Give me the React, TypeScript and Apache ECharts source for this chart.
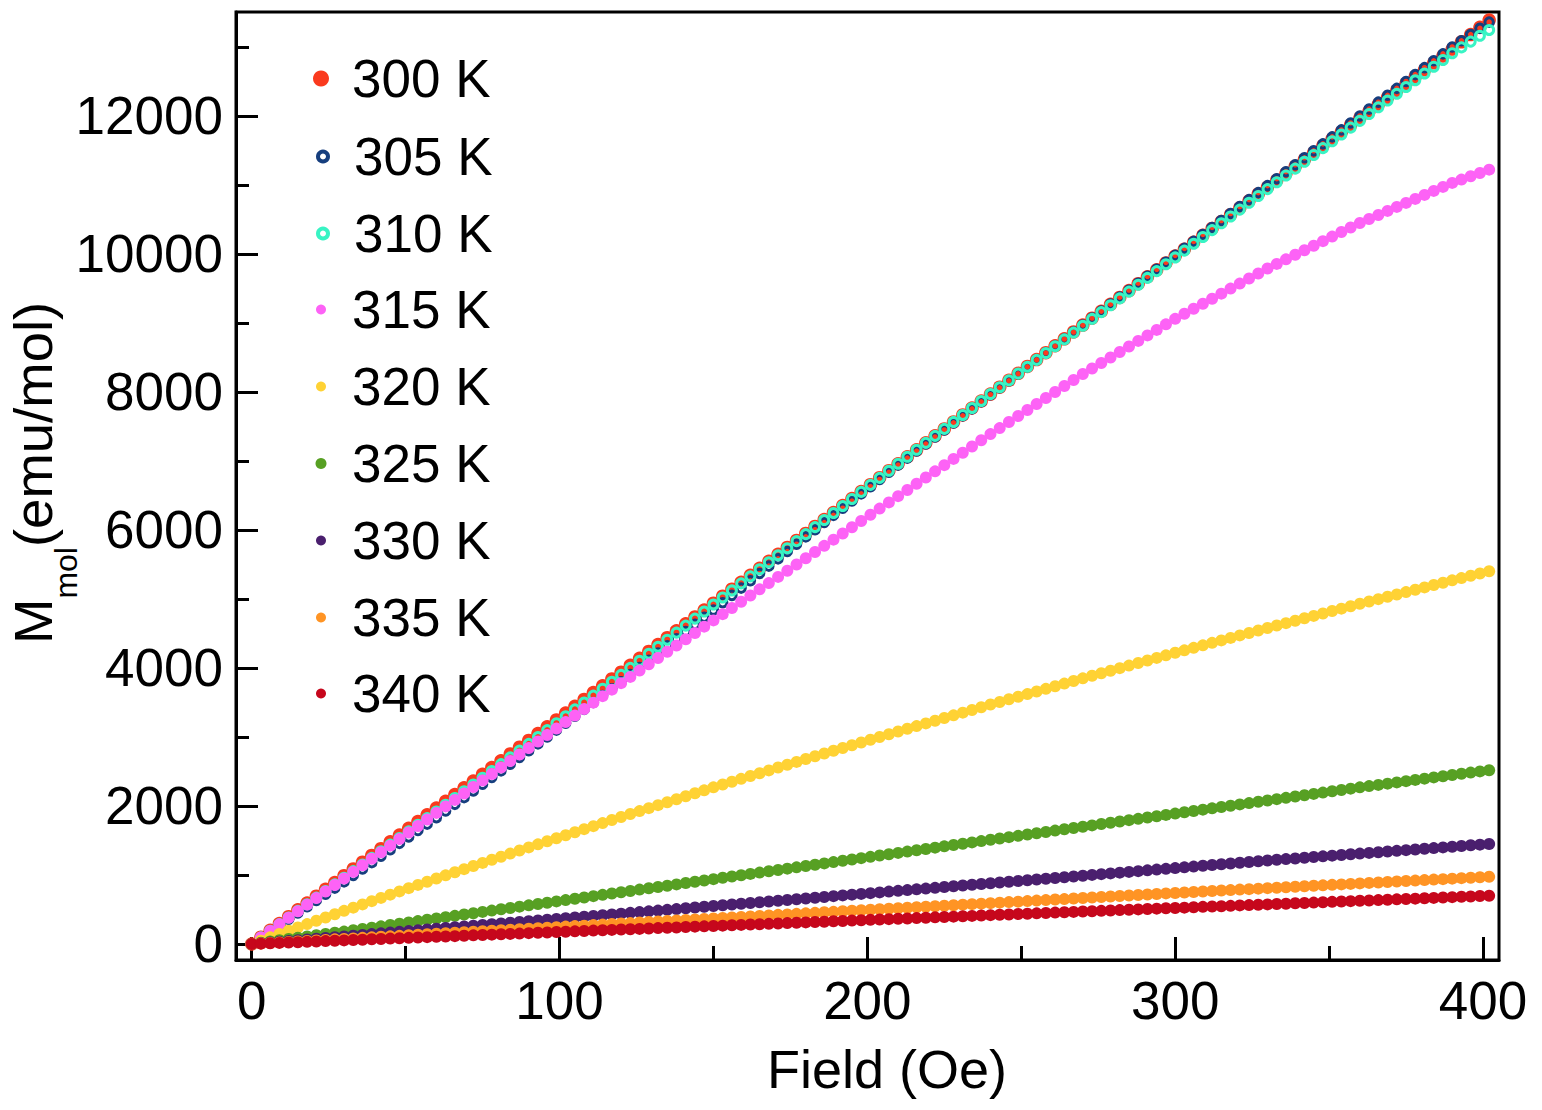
import React, { useEffect, useRef } from "react";
import * as echarts from "echarts";

// Field (Oe) sample points
const fields = [
  0, 3, 6, 9, 12, 15, 18, 21, 24, 27,
  30, 33, 36, 39, 42, 45, 48, 51, 54, 57,
  60, 63, 66, 69, 72, 75, 78, 81, 84, 87,
  90, 93, 96, 99, 102, 105, 108, 111, 114, 117,
  120, 123, 126, 129, 132, 135, 138, 141, 144, 147,
  150, 153, 156, 159, 162, 165, 168, 171, 174, 177,
  180, 183, 186, 189, 192, 195, 198, 201, 204, 207,
  210, 213, 216, 219, 222, 225, 228, 231, 234, 237,
  240, 243, 246, 249, 252, 255, 258, 261, 264, 267,
  270, 273, 276, 279, 282, 285, 288, 291, 294, 297,
  300, 303, 306, 309, 312, 315, 318, 321, 324, 327,
  330, 333, 336, 339, 342, 345, 348, 351, 354, 357,
  360, 363, 366, 369, 372, 375, 378, 381, 384, 387,
  390, 393, 396, 399, 402,
];

// M_mol (emu/mol) per temperature
const m300 = [
  0, 99, 198, 297, 396, 495, 594, 693, 792, 891,
  990, 1088, 1186, 1284, 1382, 1480, 1578, 1676, 1774, 1872,
  1970, 2068, 2166, 2264, 2362, 2460, 2558, 2656, 2754, 2852,
  2950, 3049, 3148, 3247, 3346, 3445, 3544, 3643, 3742, 3841,
  3940, 4040, 4140, 4240, 4340, 4440, 4540, 4640, 4740, 4840,
  4940, 5041, 5142, 5243, 5344, 5445, 5546, 5647, 5748, 5849,
  5950, 6051, 6152, 6253, 6354, 6455, 6556, 6657, 6758, 6859,
  6960, 7061, 7162, 7263, 7364, 7465, 7566, 7667, 7768, 7869,
  7970, 8070, 8170, 8270, 8370, 8470, 8570, 8670, 8770, 8870,
  8970, 9070, 9170, 9270, 9370, 9470, 9570, 9670, 9770, 9870,
  9970, 10070, 10170, 10270, 10370, 10470, 10570, 10670, 10770, 10870,
  10970, 11070, 11170, 11270, 11370, 11470, 11570, 11670, 11770, 11870,
  11970, 12070, 12170, 12270, 12370, 12470, 12570, 12670, 12770, 12870,
  12970, 13075, 13180, 13285, 13390,
];
const m305 = [
  0, 90, 180, 270, 360, 450, 540, 630, 720, 810,
  900, 993, 1086, 1179, 1272, 1365, 1458, 1551, 1644, 1737,
  1830, 1927, 2024, 2121, 2218, 2315, 2412, 2509, 2606, 2703,
  2800, 2900, 3000, 3100, 3200, 3300, 3400, 3500, 3600, 3700,
  3800, 3904, 4008, 4112, 4216, 4320, 4424, 4528, 4632, 4736,
  4840, 4946, 5052, 5158, 5264, 5370, 5476, 5582, 5688, 5794,
  5900, 6004, 6108, 6212, 6316, 6420, 6524, 6628, 6732, 6836,
  6940, 7042, 7144, 7246, 7348, 7450, 7552, 7654, 7756, 7858,
  7960, 8061, 8162, 8263, 8364, 8465, 8566, 8667, 8768, 8869,
  8970, 9071, 9172, 9273, 9374, 9475, 9576, 9677, 9778, 9879,
  9980, 10081, 10182, 10283, 10384, 10485, 10586, 10687, 10788, 10889,
  10990, 11091, 11192, 11293, 11394, 11495, 11596, 11697, 11798, 11899,
  12000, 12100, 12200, 12300, 12400, 12500, 12600, 12700, 12800, 12900,
  13000, 13090, 13180, 13270, 13360,
];
const m310 = [
  0, 96, 192, 288, 384, 480, 576, 672, 768, 864,
  960, 1056, 1152, 1248, 1344, 1440, 1536, 1632, 1728, 1824,
  1920, 2018, 2116, 2214, 2312, 2410, 2508, 2606, 2704, 2802,
  2900, 3000, 3100, 3200, 3300, 3400, 3500, 3600, 3700, 3800,
  3900, 4002, 4104, 4206, 4308, 4410, 4512, 4614, 4716, 4818,
  4920, 5022, 5124, 5226, 5328, 5430, 5532, 5634, 5736, 5838,
  5940, 6042, 6144, 6246, 6348, 6450, 6552, 6654, 6756, 6858,
  6960, 7061, 7162, 7263, 7364, 7465, 7566, 7667, 7768, 7869,
  7970, 8069, 8168, 8267, 8366, 8465, 8564, 8663, 8762, 8861,
  8960, 9059, 9158, 9257, 9356, 9455, 9554, 9653, 9752, 9851,
  9950, 10049, 10148, 10247, 10346, 10445, 10544, 10643, 10742, 10841,
  10940, 11039, 11138, 11237, 11336, 11435, 11534, 11633, 11732, 11831,
  11930, 12028, 12126, 12224, 12322, 12420, 12518, 12616, 12714, 12812,
  12910, 12994, 13078, 13162, 13246,
];
const m315 = [
  0, 95, 190, 285, 380, 475, 570, 665, 760, 855,
  950, 1045, 1140, 1235, 1330, 1425, 1520, 1615, 1710, 1805,
  1900, 1994, 2088, 2182, 2276, 2370, 2464, 2558, 2652, 2746,
  2840, 2934, 3028, 3122, 3216, 3310, 3404, 3498, 3592, 3686,
  3780, 3871, 3962, 4053, 4144, 4235, 4326, 4417, 4508, 4599,
  4690, 4780, 4870, 4960, 5050, 5140, 5230, 5320, 5410, 5500,
  5590, 5680, 5770, 5860, 5950, 6040, 6130, 6220, 6310, 6400,
  6490, 6580, 6670, 6760, 6850, 6940, 7030, 7120, 7210, 7300,
  7390, 7477, 7564, 7651, 7738, 7825, 7912, 7999, 8086, 8173,
  8260, 8340, 8420, 8500, 8580, 8660, 8740, 8820, 8900, 8980,
  9060, 9133, 9206, 9279, 9352, 9425, 9498, 9571, 9644, 9717,
  9790, 9856, 9922, 9988, 10054, 10120, 10186, 10252, 10318, 10384,
  10450, 10508, 10566, 10624, 10682, 10740, 10798, 10856, 10914, 10972,
  11030, 11078, 11126, 11174, 11222,
];
const m320 = [
  0, 48, 96, 144, 192, 240, 288, 336, 384, 432,
  480, 527, 574, 621, 668, 715, 762, 809, 856, 903,
  950, 995, 1040, 1085, 1130, 1175, 1220, 1265, 1310, 1355,
  1400, 1444, 1488, 1532, 1576, 1620, 1664, 1708, 1752, 1796,
  1840, 1883, 1926, 1969, 2012, 2055, 2098, 2141, 2184, 2227,
  2270, 2311, 2352, 2393, 2434, 2475, 2516, 2557, 2598, 2639,
  2680, 2720, 2760, 2800, 2840, 2880, 2920, 2960, 3000, 3040,
  3080, 3119, 3158, 3197, 3236, 3275, 3314, 3353, 3392, 3431,
  3470, 3508, 3546, 3584, 3622, 3660, 3698, 3736, 3774, 3812,
  3850, 3887, 3924, 3961, 3998, 4035, 4072, 4109, 4146, 4183,
  4220, 4256, 4292, 4328, 4364, 4400, 4436, 4472, 4508, 4544,
  4580, 4615, 4650, 4685, 4720, 4755, 4790, 4825, 4860, 4895,
  4930, 4964, 4998, 5032, 5066, 5100, 5134, 5168, 5202, 5236,
  5270, 5303, 5336, 5369, 5402,
];
const m325 = [
  0, 18, 36, 54, 72, 90, 108, 126, 144, 162,
  180, 199, 218, 237, 256, 275, 294, 313, 332, 351,
  370, 389, 408, 427, 446, 465, 484, 503, 522, 541,
  560, 579, 598, 617, 636, 655, 674, 693, 712, 731,
  750, 769, 788, 807, 826, 845, 864, 883, 902, 921,
  940, 959, 978, 997, 1016, 1035, 1054, 1073, 1092, 1111,
  1130, 1149, 1168, 1187, 1206, 1225, 1244, 1263, 1282, 1301,
  1320, 1339, 1358, 1377, 1396, 1415, 1434, 1453, 1472, 1491,
  1510, 1529, 1548, 1567, 1586, 1605, 1624, 1643, 1662, 1681,
  1700, 1719, 1738, 1757, 1776, 1795, 1814, 1833, 1852, 1871,
  1890, 1909, 1928, 1947, 1966, 1985, 2004, 2023, 2042, 2061,
  2080, 2099, 2118, 2137, 2156, 2175, 2194, 2213, 2232, 2251,
  2270, 2288, 2306, 2324, 2342, 2360, 2378, 2396, 2414, 2432,
  2450, 2467, 2484, 2501, 2518,
];
const m330 = [
  0, 11, 22, 33, 44, 55, 66, 77, 88, 99,
  110, 121, 132, 143, 154, 165, 176, 187, 198, 209,
  220, 231, 242, 253, 264, 275, 286, 297, 308, 319,
  330, 341, 352, 363, 374, 385, 396, 407, 418, 429,
  440, 451, 462, 473, 484, 495, 506, 517, 528, 539,
  550, 561, 572, 583, 594, 605, 616, 627, 638, 649,
  660, 671, 682, 693, 704, 715, 726, 737, 748, 759,
  770, 781, 792, 803, 814, 825, 836, 847, 858, 869,
  880, 891, 902, 913, 924, 935, 946, 957, 968, 979,
  990, 1001, 1012, 1023, 1034, 1045, 1056, 1067, 1078, 1089,
  1100, 1111, 1122, 1133, 1144, 1155, 1166, 1177, 1188, 1199,
  1210, 1220, 1230, 1240, 1250, 1260, 1270, 1280, 1290, 1300,
  1310, 1320, 1330, 1340, 1350, 1360, 1370, 1380, 1390, 1400,
  1410, 1420, 1430, 1440, 1450,
];
const m335 = [
  0, 7, 15, 22, 30, 37, 44, 52, 59, 67,
  74, 81, 89, 96, 104, 111, 118, 126, 133, 141,
  148, 155, 163, 170, 178, 185, 192, 200, 207, 215,
  222, 229, 237, 244, 252, 259, 266, 274, 281, 289,
  296, 303, 311, 318, 326, 333, 340, 348, 355, 363,
  370, 377, 385, 392, 400, 407, 414, 422, 429, 437,
  444, 451, 459, 466, 474, 481, 488, 496, 503, 511,
  518, 525, 533, 540, 548, 555, 562, 570, 577, 585,
  592, 599, 607, 614, 622, 629, 636, 644, 651, 659,
  666, 673, 681, 688, 696, 703, 710, 718, 725, 733,
  740, 747, 754, 761, 768, 775, 781, 788, 795, 802,
  809, 816, 823, 830, 837, 844, 850, 857, 864, 871,
  878, 885, 892, 899, 906, 913, 919, 926, 933, 940,
  947, 954, 961, 968, 975,
];
const m340 = [
  0, 5, 10, 16, 21, 26, 31, 37, 42, 47,
  52, 57, 62, 68, 73, 78, 83, 89, 94, 99,
  104, 109, 114, 120, 125, 130, 135, 141, 146, 151,
  157, 162, 167, 173, 178, 183, 188, 194, 199, 204,
  209, 214, 219, 225, 230, 235, 240, 246, 251, 256,
  261, 266, 271, 277, 282, 287, 292, 298, 303, 308,
  313, 318, 323, 329, 334, 339, 344, 350, 355, 360,
  365, 370, 375, 381, 386, 391, 396, 402, 407, 412,
  418, 423, 428, 434, 439, 444, 449, 455, 460, 465,
  470, 475, 480, 486, 491, 496, 501, 507, 512, 517,
  522, 527, 532, 538, 543, 548, 553, 559, 564, 569,
  574, 579, 584, 590, 595, 600, 605, 611, 616, 621,
  626, 631, 636, 642, 647, 652, 657, 663, 668, 673,
  679, 684, 689, 695, 700,
];

const temps = ["300 K", "305 K", "310 K", "315 K", "320 K", "325 K", "330 K", "335 K", "340 K"];
const seriesValues = [m300, m305, m310, m315, m320, m325, m330, m335, m340];

const xMajorTicks = [0, 100, 200, 300, 400];
const xMinorTicks = [50, 150, 250, 350];
const yMajorTicks = [0, 2000, 4000, 6000, 8000, 10000, 12000];
const yMinorTicks = [1000, 3000, 5000, 7000, 9000, 11000, 13000];

// y-axis title pieces
const yTitleMain = "M";
const yTitleSub = "mol";
const yTitleUnit = "(emu/mol)";

// styles (kept apart from data)
const colors = ["#FA3A1E", "#163E7E", "#38F4C4", "#FD62F6", "#FFD234", "#57A023", "#4A1F6E", "#FF9424", "#C6071C"];
const hollow = [false, true, true, false, false, false, false, false, false];
const markerSizes = [13.5, 8.5, 9, 12, 12, 12, 12, 12, 12];
const ringWidths = [0, 3, 3, 0, 0, 0, 0, 0, 0];
const legendSizes = [16, 10, 10, 10, 10, 11, 10, 10, 10];
const legendCenters = [78, 156, 233, 309, 386, 463, 540, 617, 693];

const FONT = "'Liberation Sans', Arial, Helvetica, sans-serif";

export default function App() {
  const ref = useRef<HTMLDivElement>(null);

  useEffect(() => {
    if (!ref.current) return;
    const chart = echarts.init(ref.current, undefined, { renderer: "svg" });

    const series = temps.map((t, i) => ({
      type: "scatter",
      name: t,
      data: fields.map((h, j) => [h, seriesValues[i][j]]),
      symbol: "circle",
      symbolSize: markerSizes[i],
      silent: true,
      itemStyle: hollow[i]
        ? { color: "rgba(0,0,0,0)", borderColor: colors[i], borderWidth: ringWidths[i], opacity: 1 }
        : { color: colors[i], borderWidth: 0, opacity: 1 },
      z: 2 + i,
    }));

    const legends = temps.map((t, i) => ({
      data: [
        {
          name: t,
          icon: "circle",
          itemStyle: hollow[i]
            ? { color: "rgba(0,0,0,0)", borderColor: colors[i], borderWidth: 4, opacity: 1 }
            : { color: colors[i], borderWidth: 0, opacity: 1 },
        },
      ],
      orient: "vertical",
      left: 321 - legendSizes[i] / 2,
      top: legendCenters[i] - 26,
      padding: 0,
      itemWidth: legendSizes[i],
      itemHeight: legendSizes[i],
      selectedMode: false,
      textStyle: {
        fontSize: 53,
        fontFamily: FONT,
        color: "#000",
        padding: [0, 0, 0, 26 - legendSizes[i] / 2],
      },
    }));

    const axisLine = { show: true, onZero: false, lineStyle: { color: "#000", width: 3 } };
    const plain = (v: number) => String(v);

    // rotated y-axis title: main letter, subscript, unit
    const bigSize = 54.5;
    const subSize = 32;
    const startY = 644;
    const subStart = startY - 0.833 * bigSize;
    const unitStart = subStart - 1.611 * subSize;
    const titleText = (text: string, x: number, y: number, size: number) => ({
      type: "text",
      x,
      y,
      rotation: Math.PI / 2,
      silent: true,
      style: {
        text,
        fontSize: size,
        fontFamily: FONT,
        fill: "#000",
        align: "left",
        verticalAlign: "middle",
      },
    });

    chart.setOption({
      animation: false,
      backgroundColor: "#fff",
      grid: {
        left: 236,
        right: 43,
        top: 12,
        bottom: 150,
        containLabel: false,
        outerBoundsMode: "none",
        show: true,
        borderColor: "#000",
        borderWidth: 3,
        backgroundColor: "rgba(0,0,0,0)",
      },
      legend: legends,
      graphic: [
        titleText(yTitleMain, 33, startY, bigSize),
        titleText(yTitleSub, 66, subStart, subSize),
        titleText(yTitleUnit, 33, unitStart, bigSize),
      ],
      xAxis: [
        {
          type: "value",
          min: -5.1,
          max: 405.2,
          position: "bottom",
          axisLine,
          axisTick: {
            show: true,
            inside: true,
            length: 23,
            customValues: xMajorTicks,
            lineStyle: { color: "#000", width: 3 },
          },
          axisLabel: {
            customValues: xMajorTicks,
            formatter: plain,
            fontSize: 53,
            fontFamily: FONT,
            color: "#000",
            margin: 14,
          },
          splitLine: { show: false },
          name: "Field (Oe)",
          nameLocation: "middle",
          nameGap: 82,
          nameTextStyle: {
            fontSize: 54,
            fontFamily: FONT,
            color: "#000",
            padding: [0, 0, 0, 39],
          },
        },
        {
          type: "value",
          min: -5.1,
          max: 405.2,
          position: "bottom",
          offset: 0,
          axisLine: { show: false, onZero: false },
          axisTick: {
            show: true,
            inside: true,
            length: 14,
            customValues: xMinorTicks,
            lineStyle: { color: "#000", width: 3 },
          },
          axisLabel: { show: false },
          splitLine: { show: false },
        },
      ],
      yAxis: [
        {
          type: "value",
          min: -232,
          max: 13507,
          position: "left",
          axisLine,
          axisTick: {
            show: true,
            inside: true,
            length: 22,
            customValues: yMajorTicks,
            lineStyle: { color: "#000", width: 3 },
          },
          axisLabel: {
            customValues: yMajorTicks,
            formatter: plain,
            fontSize: 53,
            fontFamily: FONT,
            color: "#000",
            margin: 13,
          },
          splitLine: { show: false },
        },
        {
          type: "value",
          min: -232,
          max: 13507,
          position: "left",
          offset: 0,
          axisLine: { show: false, onZero: false },
          axisTick: {
            show: true,
            inside: true,
            length: 13,
            customValues: yMinorTicks,
            lineStyle: { color: "#000", width: 3 },
          },
          axisLabel: { show: false },
          splitLine: { show: false },
        },
      ],
      series,
    });

    return () => chart.dispose();
  }, []);

  return (
    <div
      ref={ref}
      style={{ position: "fixed", left: 0, top: 0, width: 1542, height: 1110, background: "#fff" }}
    />
  );
}
